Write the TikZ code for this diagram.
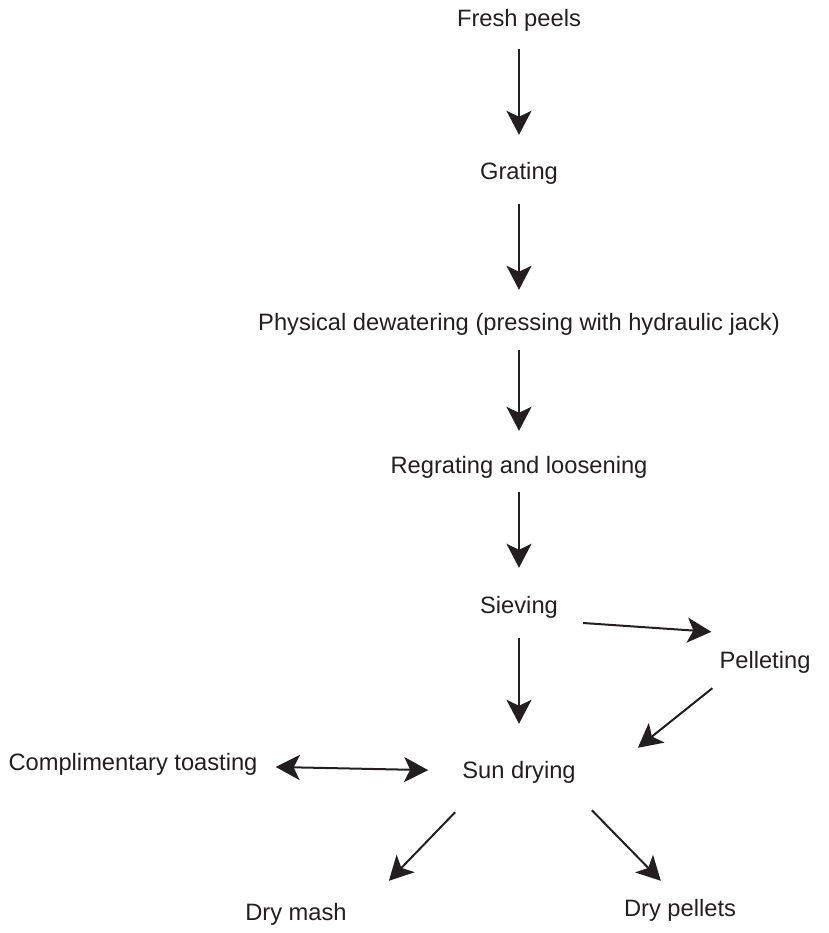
\documentclass[tikz,border=0pt]{standalone}
\usepackage{fontspec}
\setmainfont{Liberation Sans}
\usetikzlibrary{arrows.meta}
\definecolor{ink}{RGB}{35,31,32}
\begin{document}
\begin{tikzpicture}[x=1pt, y=-1pt,
    stage/.style={inner sep=0pt, text=ink, text height=17pt, text depth=5pt,
      font=\fontsize{23.7}{28}\selectfont},
    flow/.style={draw=ink, line width=2pt,
      -{Stealth[length=24pt, width=25pt, inset=6pt]}},
    both/.style={flow, {Stealth[length=24pt, width=25pt, inset=6pt]}-{Stealth[length=24pt, width=25pt, inset=6pt]}}]
    \useasboundingbox (0,0) rectangle (828,933);

    \node[stage] (fresh) at (519,21) {Fresh peels};
    \node[stage] (grating) at (519,174) {Grating};
    \node[stage] (press) at (519,324) {Physical dewatering (pressing with hydraulic jack)};
    \node[stage] (regrate) at (519,467) {Regrating and loosening};
    \node[stage] (sieve) at (519,607) {Sieving};
    \node[stage] (pellet) at (765,662) {Pelleting};
    \node[stage] (sun) at (519,772) {Sun drying};
    \node[stage] (toast) at (133,764) {Complimentary toasting};
    \node[stage] (mash) at (296,914) {Dry mash};
    \node[stage] (drypel) at (680,910) {Dry pellets};

    \draw[flow, shorten <=17pt, shorten >=28pt] (fresh) -- (grating);
    \draw[flow, shorten <=19pt, shorten >=23pt] (grating) -- (press);
    \draw[flow, shorten <=15pt, shorten >=25pt] (press) -- (regrate);
    \draw[flow, shorten <=14pt, shorten >=28pt] (regrate) -- (sieve);
    \draw[flow, shorten <=20pt, shorten >=37pt] (sieve) -- (sun);

    \draw[flow] ([shift={(25,16)}]sieve.east) -- ([shift={(-8,-19)}]pellet.north west);
    \draw[flow] ([shift={(-7,15)}]pellet.south west) -- ([shift={(62,-13)}]sun.north east);
    \draw[both, shorten <=18pt, shorten >=34pt] (toast) -- (sun);
    \draw[flow] ([shift={(-7,29)}]sun.south west) -- ([shift={(42,-22)}]mash.north east);
    \draw[flow] ([shift={(16,27)}]sun.south east) -- ([shift={(37,-18)}]drypel.north west);
  \end{tikzpicture}
\end{document}
